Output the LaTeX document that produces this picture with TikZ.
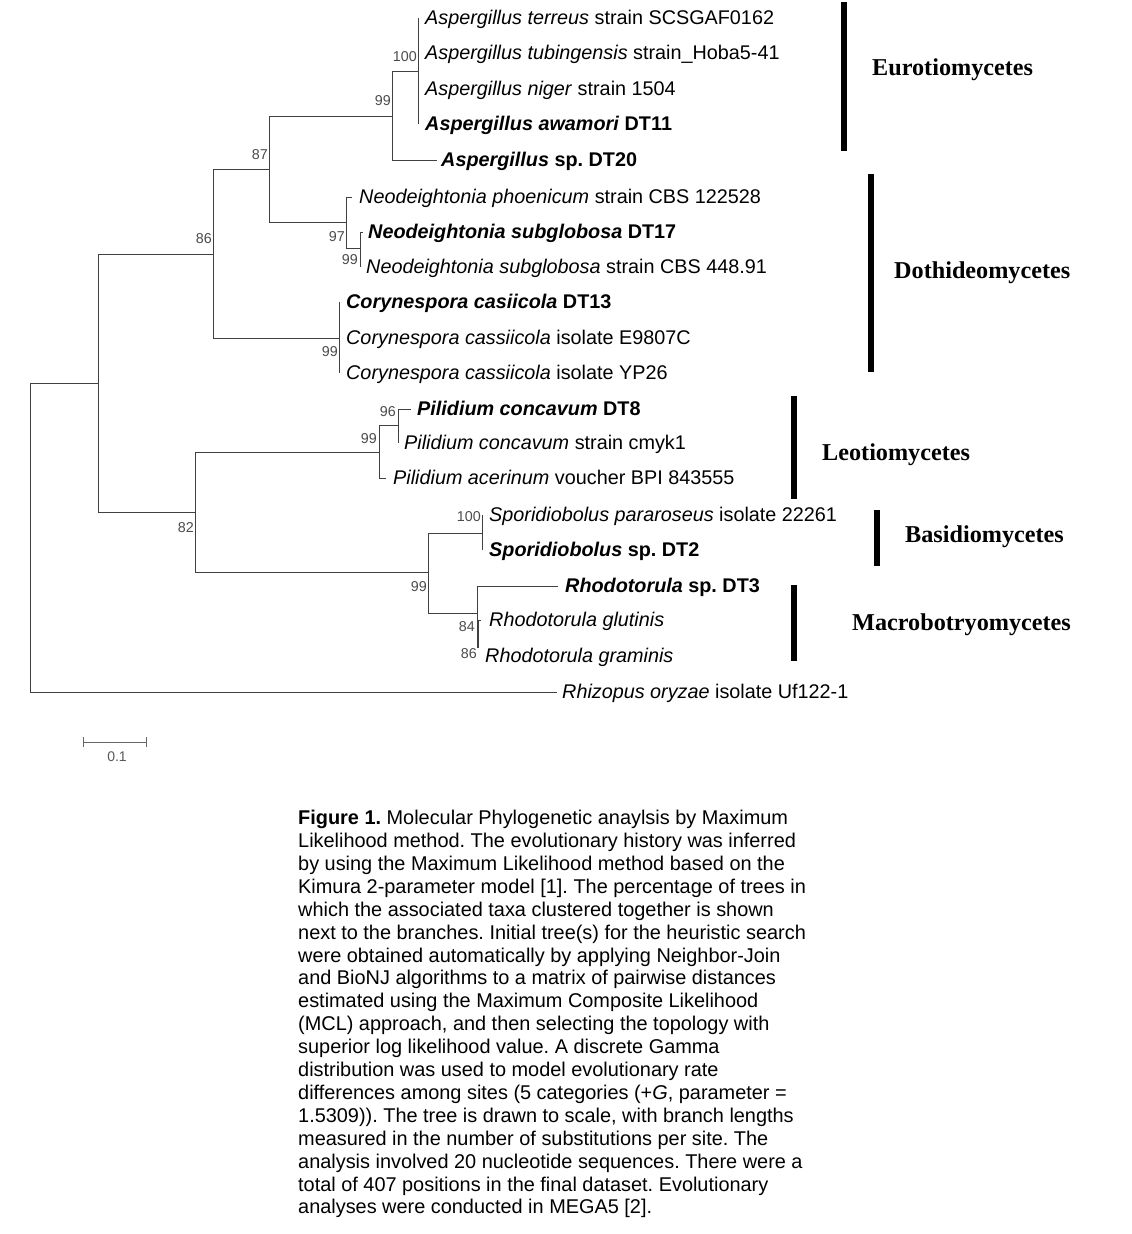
\documentclass[tikz,border=0pt]{standalone}
\usepackage{fontspec}
\setmainfont{Liberation Sans}
\newfontfamily\tnr{Liberation Serif}
\frenchspacing
\begin{document}
\begin{tikzpicture}[x=1pt,y=-1pt,
  br/.style={draw=black!75, line width=1pt},
  tiplab/.style={anchor=mid west, inner sep=0pt, yshift=-4pt, font=\fontsize{19.8}{23}\selectfont},
  bs/.style={anchor=east, inner sep=0pt, text=black!70, font=\fontsize{14.3}{16}\selectfont},
  cladebar/.style={line width=5.5pt, black},
  cladelab/.style={anchor=mid west, inner sep=0pt, yshift=-5pt, font=\tnr\bfseries\fontsize{24.2}{26}\selectfont}]
\useasboundingbox[fill=white] (0,0) rectangle (1132,1234);

% internal nodes
\coordinate (root) at (30,537);
\coordinate (R) at (98,383);
\coordinate (A86) at (213,254);
\coordinate (A87) at (269,169);
\coordinate (A99) at (392,116);
\coordinate (A100) at (418,71);
\coordinate (N97) at (346,222);
\coordinate (N99) at (360,248);
\coordinate (C99) at (339,338);
\coordinate (B82) at (195,512);
\coordinate (P99) at (379,452);
\coordinate (P96) at (398,425);
\coordinate (B99) at (428,572);
\coordinate (S100) at (482,533);
\coordinate (Rh) at (477,613);
\coordinate (R84) at (478,634);
% tips
\coordinate (t1) at (418,18);
\coordinate (t2) at (418,53);
\coordinate (t3) at (418,89);
\coordinate (t4) at (418,124);
\coordinate (t5) at (437,160);
\coordinate (t6) at (352,197);
\coordinate (t7) at (363,232);
\coordinate (t8) at (360,267);
\coordinate (t9) at (339,302);
\coordinate (t10) at (339,338);
\coordinate (t11) at (339,373);
\coordinate (t12) at (411,409);
\coordinate (t13) at (398,443);
\coordinate (t14) at (386,478);
\coordinate (t15) at (482,515);
\coordinate (t16) at (482,550);
\coordinate (t17) at (558,586);
\coordinate (t18) at (481,620);
\coordinate (t19) at (478,648);
\coordinate (t20) at (557,692);

% branches
\draw[br] (root) |- (R);
\draw[br] (root) |- (t20);
\draw[br] (R) |- (A86);
\draw[br] (R) |- (B82);
\draw[br] (A86) |- (A87);
\draw[br] (A86) |- (C99);
\draw[br] (A87) |- (A99);
\draw[br] (A87) |- (N97);
\draw[br] (A99) |- (A100);
\draw[br] (A99) |- (t5);
\draw[br] (A100) |- (t1);
\draw[br] (A100) |- (t2);
\draw[br] (A100) |- (t3);
\draw[br] (A100) |- (t4);
\draw[br] (N97) |- (t6);
\draw[br] (N97) |- (N99);
\draw[br] (N99) |- (t7);
\draw[br] (N99) |- (t8);
\draw[br] (C99) |- (t9);
\draw[br] (C99) |- (t10);
\draw[br] (C99) |- (t11);
\draw[br] (B82) |- (P99);
\draw[br] (B82) |- (B99);
\draw[br] (P99) |- (P96);
\draw[br] (P99) |- (t14);
\draw[br] (P96) |- (t12);
\draw[br] (P96) |- (t13);
\draw[br] (B99) |- (S100);
\draw[br] (B99) |- (Rh);
\draw[br] (S100) |- (t15);
\draw[br] (S100) |- (t16);
\draw[br] (Rh) |- (t17);
\draw[br] (Rh) |- (R84);
\draw[br] (R84) |- (t18);
\draw[br, line width=1.6pt] (R84) |- (t19);

% tip labels
\node[tiplab] (L1) at ([xshift=7]t1) {\textit{Aspergillus terreus} strain SCSGAF0162};
\node[tiplab] (L2) at ([xshift=7]t2) {\textit{Aspergillus tubingensis} strain\_Hoba5-41};
\node[tiplab] (L3) at ([xshift=7]t3) {\textit{Aspergillus niger} strain 1504};
\node[tiplab] (L4) at ([xshift=7]t4) {\textbf{\textit{Aspergillus awamori} DT11}};
\node[tiplab] (L5) at ([xshift=4]t5) {\textbf{\textit{Aspergillus} sp. DT20}};
\node[tiplab] (L6) at ([xshift=7]t6) {\textit{Neodeightonia phoenicum} strain CBS 122528};
\node[tiplab] (L7) at ([xshift=5]t7) {\textbf{\textit{Neodeightonia subglobosa} DT17}};
\node[tiplab] (L8) at ([xshift=6]t8) {\textit{Neodeightonia subglobosa} strain CBS 448.91};
\node[tiplab] (L9) at ([xshift=7]t9) {\textbf{\textit{Corynespora casiicola} DT13}};
\node[tiplab] (L10) at ([xshift=7]t10) {\textit{Corynespora cassiicola} isolate E9807C};
\node[tiplab] (L11) at ([xshift=7]t11) {\textit{Corynespora cassiicola} isolate YP26};
\node[tiplab] (L12) at ([xshift=6]t12) {\textbf{\textit{Pilidium concavum} DT8}};
\node[tiplab] (L13) at ([xshift=6]t13) {\textit{Pilidium concavum} strain cmyk1};
\node[tiplab] (L14) at ([xshift=7]t14) {\textit{Pilidium acerinum} voucher BPI 843555};
\node[tiplab] (L15) at ([xshift=7]t15) {\textit{Sporidiobolus pararoseus} isolate 22261};
\node[tiplab] (L16) at ([xshift=7]t16) {\textbf{\textit{Sporidiobolus} sp. DT2}};
\node[tiplab] (L17) at ([xshift=7]t17) {\textbf{\textit{Rhodotorula} sp. DT3}};
\node[tiplab] (L18) at ([xshift=8]t18) {\textit{Rhodotorula glutinis}};
\node[tiplab] (L19) at ([shift={(7,8)}]t19) {\textit{Rhodotorula graminis}};
\node[tiplab] (L20) at ([xshift=5]t20) {\textit{Rhizopus oryzae} isolate Uf122-1};

% bootstrap values
\node[bs] (bA100) at ([shift={(-1,-14)}]A100) {100};
\node[bs] (bA99) at ([shift={(-1,-15)}]A99) {99};
\node[bs] (bA87) at ([shift={(-1,-14)}]A87) {87};
\node[bs] (bA86) at ([shift={(-1,-15)}]A86) {86};
\node[bs] (bN97) at ([shift={(-1,15)}]N97) {97};
\node[bs] (bN99) at ([shift={(-2,12)}]N99) {99};
\node[bs] (bC99) at ([shift={(-1,14)}]C99) {99};
\node[bs] (bP96) at ([shift={(-2,-13)}]P96) {96};
\node[bs] (bP99) at ([shift={(-2,-13)}]P99) {99};
\node[bs] (bB82) at ([shift={(-1,16)}]B82) {82};
\node[bs] (bB99) at ([shift={(-1,15)}]B99) {99};
\node[bs] (bS100) at ([shift={(-1,-16)}]S100) {100};
\node[bs] (bR84) at ([shift={(-3,-7)}]R84) {84};
\node[bs] (bR86) at ([shift={(-1,20)}]R84) {86};

% clade bars and names
\coordinate (e1) at (844,2);   \coordinate (e2) at (844,151);
\coordinate (d1) at (871,174); \coordinate (d2) at (871,372);
\coordinate (l1) at (794,396); \coordinate (l2) at (794,499);
\coordinate (s1) at (877,510); \coordinate (s2) at (877,566);
\coordinate (m1) at (794,585); \coordinate (m2) at (794,661);
\draw[cladebar] (e1) -- (e2);
\draw[cladebar] (d1) -- (d2);
\draw[cladebar] (l1) -- (l2);
\draw[cladebar] (s1) -- (s2);
\draw[cladebar] (m1) -- (m2);
\node[cladelab] (cE) at (872,68) {Eurotiomycetes};
\node[cladelab] (cD) at (894,271) {Dothideomycetes};
\node[cladelab] (cL) at (822,453) {Leotiomycetes};
\node[cladelab] (cB) at (905,535) {Basidiomycetes};
\node[cladelab] (cM) at (852,623) {Macrobotryomycetes};

% scale bar
\coordinate (sb1) at (83,742);
\coordinate (sb2) at (146,742);
\draw[br, draw=black!60] (sb1) -- (sb2);
\draw[br, draw=black!60] ([yshift=-5]sb1) -- ([yshift=5]sb1);
\draw[br, draw=black!60] ([yshift=-5]sb2) -- ([yshift=5]sb2);
\node[inner sep=0pt, text=black!65, font=\fontsize{14}{16}\selectfont] (sbl) at (117,757) {0.1};

% caption
\node[anchor=north west, align=left, inner sep=0pt, font=\fontsize{19.9}{22.9}\selectfont] (cap) at (298,810) {%
\textbf{Figure 1.} Molecular Phylogenetic anaylsis by Maximum\\
Likelihood method. The evolutionary history was inferred\\
by using the Maximum Likelihood method based on the\\
Kimura 2-parameter model [1]. The percentage of trees in\\
which the associated taxa clustered together is shown\\
next to the branches. Initial tree(s) for the heuristic search\\
were obtained automatically by applying Neighbor-Join\\
and BioNJ algorithms to a matrix of pairwise distances\\
estimated using the Maximum Composite Likelihood\\
(MCL) approach, and then selecting the topology with\\
superior log likelihood value. A discrete Gamma\\
distribution was used to model evolutionary rate\\
differences among sites (5 categories (+\textit{G}, parameter =\\
1.5309)). The tree is drawn to scale, with branch lengths\\
measured in the number of substitutions per site. The\\
analysis involved 20 nucleotide sequences. There were a\\
total of 407 positions in the final dataset. Evolutionary\\
analyses were conducted in MEGA5 [2].};
\end{tikzpicture}
\end{document}
